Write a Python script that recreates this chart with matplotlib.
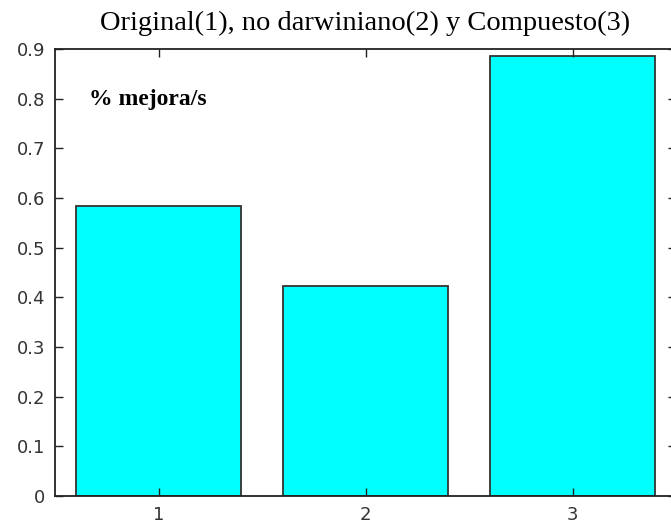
import matplotlib.pyplot as plt

# porcentaje de mejora por segundo de cada algoritmo
algoritmos = [1, 2, 3]
mejora = [0.584, 0.423, 0.887]
yticks = [0, 0.1, 0.2, 0.3, 0.4, 0.5, 0.6, 0.7, 0.8, 0.9]

fig = plt.figure(figsize=(6.71, 5.24), dpi=100)
ax = fig.add_axes([0.082, 0.0534, 0.9255, 0.853])

ax.bar(algoritmos, mejora, width=0.8, color='#00ffff', edgecolor='#333333', linewidth=1.3)

ax.set_xlim(0.5, 3.5)
ax.set_ylim(0, 0.9)
ax.set_xticks(algoritmos)
ax.set_yticks(yticks)
ax.set_yticklabels(['0' if v == 0 else f'{v:g}' for v in yticks])
ax.tick_params(direction='in', length=6, width=1, color='#222222',
               top=True, right=True, labelsize=13, pad=7, labelcolor='#333333')
for s in ax.spines.values():
    s.set_linewidth(1.3)
    s.set_color('#222222')

ax.set_title('Original(1), no darwiniano(2) y Compuesto(3)',
             family='Liberation Serif', fontsize=20.5, pad=13.5)
ax.text(0.664, 0.787, '% mejora/s', family='Liberation Serif',
        fontweight='bold', fontsize=17, va='baseline')

plt.savefig('out.png', dpi=100)
